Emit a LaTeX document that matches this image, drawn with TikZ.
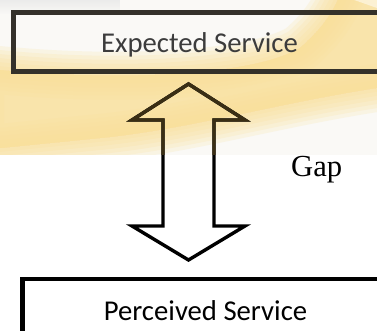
\documentclass[tikz,border=0pt]{standalone}
\usepackage{fontspec}
\usetikzlibrary{fadings}
\setmainfont{Carlito}
\newfontfamily\gapfont{Liberation Serif}
\definecolor{bandyellow}{HTML}{F9E09A}
\definecolor{bandwhite}{HTML}{FAF9F6}
\definecolor{boxline}{HTML}{34312A}
\definecolor{arrowtop}{HTML}{3A2E14}
\definecolor{toptext}{HTML}{3C3C3C}
\tikzset{
  boxframe/.style={draw=boxline, line width=4.6pt},
  lowframe/.style={draw=black, line width=4.6pt},
  gaparrow/.style={line width=3.4pt, line join=miter},
  boxlabel/.style={font=\fontsize{28.7}{34}\selectfont, inner sep=0pt, anchor=base},
  gaplabel/.style={font=\gapfont\fontsize{30.6}{36}\selectfont, inner sep=0pt, anchor=base west},
}
\begin{document}
\begin{tikzpicture}[x=1pt,y=-1pt]
\useasboundingbox (0,0) rectangle (377,331);
\fill[white] (0,0) rectangle (377,331);
% background band
\begin{scope}
  \clip (0,0) rectangle (377,155);
  \fill[bandwhite] (0,0) rectangle (377,155);
  \fill[black!8, path fading=south] (0,0) rectangle (120,14);
  \foreach \w in {0,8,16,24,32,40,48}{
    \filldraw[bandyellow, line width=\w pt, opacity=0.2]
      (-20,68) .. controls (100,82) and (250,78) .. (300,48)
      .. controls (330,22) and (338,2) .. (346,-20) -- (420,-20) -- (420,82)
      .. controls (300,96) and (200,128) .. (100,138)
      .. controls (50,143) and (0,148) .. (-20,150) -- cycle;
  }
  \fill[white, opacity=0.5] (340,-5) -- (377,-5) -- (377,8) -- cycle;
\end{scope}
% boxes
\draw[boxframe] (400,12.5) -- (13.3,12.5) -- (13.3,71.7) -- (400,71.7);
\draw[lowframe] (400,279) -- (22.2,279) -- (22.2,340);
% labels
\node[boxlabel, text=toptext] (expected) at (199.5,53) {Expected Service};
\node[boxlabel, text=black] (perceived) at (205.5,320) {Perceived Service};
\node[gaplabel] (gap) at (291,176) {Gap};
% double arrow
\coordinate (tipU) at (188.5,84);
\coordinate (tipD) at (188.5,260);
\draw[gaparrow, draw=black]
  (tipU) -- (245,120) -- (214,120) -- (214,226) -- (245,226) -- (tipD)
  -- (132,226) -- (163,226) -- (163,120) -- (132,120) -- cycle;
\begin{scope}
  \clip (0,0) rectangle (377,155);
  \draw[gaparrow, draw=arrowtop]
    (tipU) -- (245,120) -- (214,120) -- (214,226) -- (245,226) -- (tipD)
    -- (132,226) -- (163,226) -- (163,120) -- (132,120) -- cycle;
\end{scope}
\end{tikzpicture}
\end{document}
